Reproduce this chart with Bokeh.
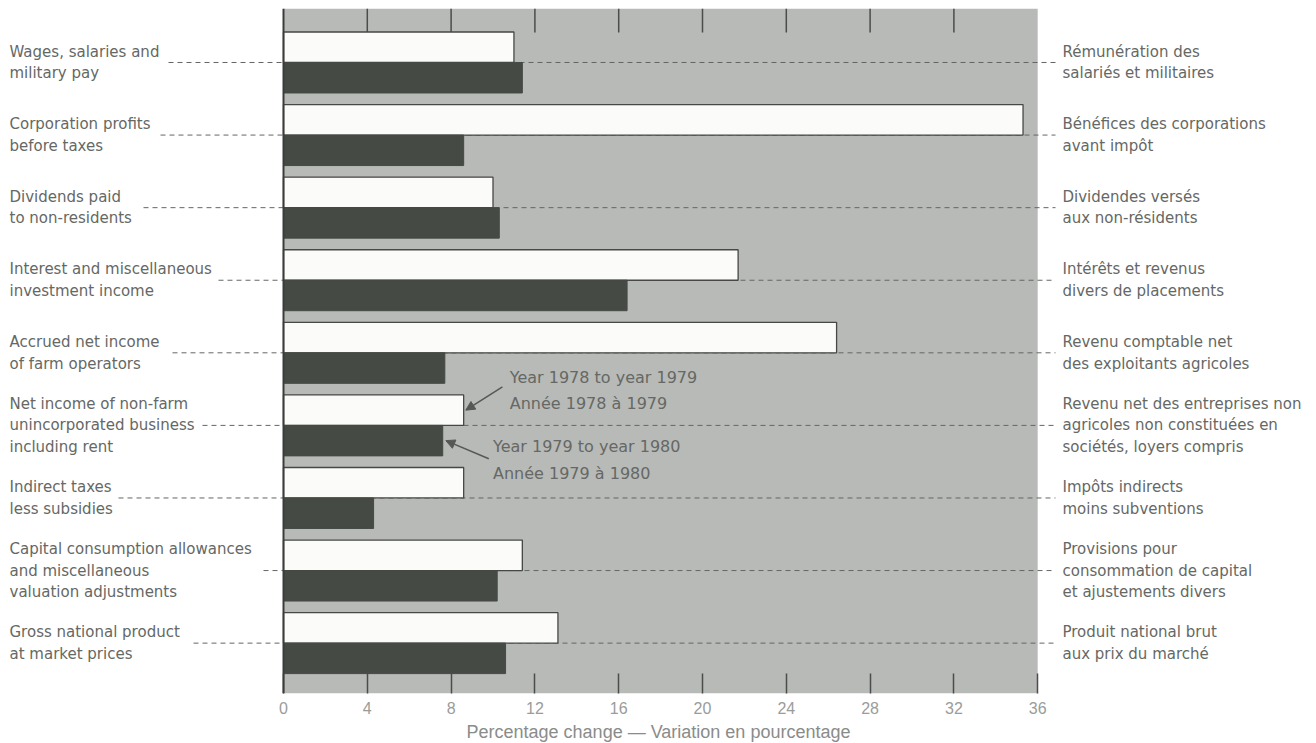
import numpy as np
from bokeh.plotting import figure
from bokeh.models import Range1d, FixedTicker, Arrow, NormalHead, BoxAnnotation, Span, ColumnDataSource
from bokeh.core.properties import value
from bokeh.embed import file_html
from bokeh.resources import INLINE

# ---------------- data ----------------
labels_en = [
    "Wages, salaries and\nmilitary pay",
    "Corporation profits\nbefore taxes",
    "Dividends paid\nto non-residents",
    "Interest and miscellaneous\ninvestment income",
    "Accrued net income\nof farm operators",
    "Net income of non-farm\nunincorporated business\nincluding rent",
    "Indirect taxes\nless subsidies",
    "Capital consumption allowances\nand miscellaneous\nvaluation adjustments",
    "Gross national product\nat market prices",
]
labels_fr = [
    "Rémunération des\nsalariés et militaires",
    "Bénéfices des corporations\navant impôt",
    "Dividendes versés\naux non-résidents",
    "Intérêts et revenus\ndivers de placements",
    "Revenu comptable net\ndes exploitants agricoles",
    "Revenu net des entreprises non\nagricoles non constituées en\nsociétés, loyers compris",
    "Impôts indirects\nmoins subventions",
    "Provisions pour\nconsommation de capital\net ajustements divers",
    "Produit national brut\naux prix du marché",
]
change_78_79 = [11.0, 35.3, 10.0, 21.7, 26.4, 8.6, 8.6, 11.4, 13.1]
change_79_80 = [11.4, 8.6, 10.3, 16.4, 7.7, 7.6, 4.3, 10.2, 10.6]
x_ticks = [0, 4, 8, 12, 16, 20, 24, 28, 32, 36]
series_78_79 = ["Year 1978 to year 1979", "Année 1978 à 1979"]
series_79_80 = ["Year 1979 to year 1980", "Année 1979 à 1980"]
axis_title = "Percentage change \u2014 Variation en pourcentage"

# ---------------- layout ----------------
LEFT_PAD, TOP_PAD = 8, 8
FRAME_W, FRAME_H = 1300, 685
PXU = 20.95            # px per percentage point
ZERO_PX = 275          # frame px of the 0 line
XS = -ZERO_PX / PXU
XE = (FRAME_W - ZERO_PX) / PXU
YS, YE = -0.694, 8.744
PXY = FRAME_H / (YE - YS)
BAR_H = 0.42
leader_start_px = [168, 160, 143, 218, 172, 202, 118, 263, 193]  # page px
leader_end_px = 1055

GRAY = "#b8bab7"
DARK = "#454a45"
TEXT = "#656865"
TICK = "#4a4d4a"

n = len(labels_en)
ypos = np.arange(n)[::-1].astype(float)

def px2x(px):
    return (px - LEFT_PAD - ZERO_PX) / PXU

p = figure(frame_width=FRAME_W, frame_height=FRAME_H,
           x_range=Range1d(XS, XE), y_range=Range1d(YS, YE),
           output_backend="svg", toolbar_location=None,
           y_axis_location=None, min_border=0,
           min_border_left=LEFT_PAD, min_border_top=TOP_PAD,
           outline_line_color=None,
           background_fill_color="white", border_fill_color="white")
p.grid.visible = False

# gray panel
p.add_layout(BoxAnnotation(left=x_ticks[0], right=x_ticks[-1], fill_color=GRAY,
                           fill_alpha=1, line_color=None, level="underlay"))

# top tick marks (inside the panel)
inner = x_ticks[1:-1]
p.segment(x0=inner, x1=inner, y0=[YE] * len(inner), y1=[YE - 24 / PXY] * len(inner),
          line_color=TICK, line_width=1.5)

# leader lines
lead = ColumnDataSource(dict(
    x0=[px2x(v) for v in leader_start_px],
    x1=[px2x(leader_end_px)] * n,
    y=ypos))
p.segment(x0="x0", y0="y", x1="x1", y1="y", source=lead,
          line_color="#636663", line_width=1, line_dash="5 4")

src = ColumnDataSource(dict(y=ypos, a=change_78_79, b=change_79_80,
                            en=labels_en, fr=labels_fr))
p.hbar(y=ypos + BAR_H / 2, left=0, right=change_78_79, height=BAR_H,
       fill_color="#fbfbfa", line_color="#454845", line_width=1.3)
p.hbar(y=ypos - BAR_H / 2, left=0, right=change_79_80, height=BAR_H,
       fill_color=DARK, line_color=DARK, line_width=1)

p.add_layout(Span(location=0, dimension="height", line_color="#3a3c3a", line_width=2))

# side labels
p.text(x=px2x(9), y="y", text="en", source=src, text_font=value("DejaVu Sans"),
       text_font_size="15px", text_color=TEXT, text_align="left",
       text_baseline="middle", text_line_height=1.2)
p.text(x=px2x(1062), y="y", text="fr", source=src, text_font=value("DejaVu Sans"),
       text_font_size="15px", text_color=TEXT, text_align="left",
       text_baseline="middle", text_line_height=1.2)

# series annotations (non-farm row)
k = 5
yc = ypos[k]
p.text(x=[change_78_79[k] + 2.2], y=[yc + 0.48], text=["\n".join(series_78_79)],
       text_font=value("DejaVu Sans"), text_font_size="16px", text_color=TEXT,
       text_align="left", text_baseline="middle", text_line_height=1.4)
p.text(x=[change_79_80[k] + 2.4], y=[yc - 0.475], text=["\n".join(series_79_80)],
       text_font=value("DejaVu Sans"), text_font_size="16px", text_color=TEXT,
       text_align="left", text_baseline="middle", text_line_height=1.4)
for xs_, ys_, xe_, ye_ in [
        (change_78_79[k] + 1.85, yc + 0.53, change_78_79[k] + 0.1, yc + BAR_H / 2),
        (change_79_80[k] + 2.2, yc - 0.46, change_79_80[k] + 0.15, yc - BAR_H / 2)]:
    p.add_layout(Arrow(end=NormalHead(size=9, fill_color="#555855", line_color="#555855"),
                       x_start=xs_, y_start=ys_, x_end=xe_, y_end=ye_,
                       line_color="#555855", line_width=1.5))

# bottom axis
xa = p.xaxis[0]
xa.ticker = FixedTicker(ticks=x_ticks)
xa.bounds = (x_ticks[0], x_ticks[-1])
xa.axis_line_color = None
xa.major_tick_in = 20
xa.major_tick_out = 0
xa.major_tick_line_color = TICK
xa.major_tick_line_width = 1.5
xa.minor_tick_line_color = None
xa.major_label_text_font = "Liberation Sans"
xa.major_label_text_font_size = "16px"
xa.major_label_text_color = "#9a9c9a"
xa.major_label_standoff = 8
xa.axis_label = axis_title
xa.axis_label_text_font = "Liberation Sans"
xa.axis_label_text_font_size = "18px"
xa.axis_label_text_font_style = "normal"
xa.axis_label_text_color = "#8a8c8a"
xa.axis_label_standoff = 5

open("out.html", "w").write(file_html(p, INLINE))
